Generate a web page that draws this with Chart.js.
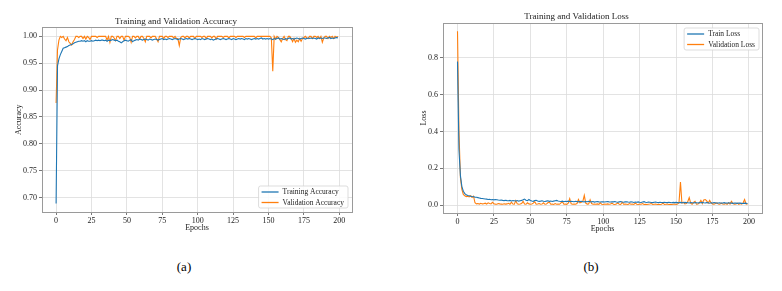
<!DOCTYPE html>
<html>
<head>
<meta charset="utf-8">
<script src="https://cdn.jsdelivr.net/npm/chart.js@4.4.0/dist/chart.umd.min.js"></script>
<style>
  html, body { margin: 0; padding: 0; background: #fff; }
  body { width: 782px; height: 291px; position: relative; overflow: hidden; }
  .box { position: absolute; top: 0; width: 391px; height: 240px; }
  .cap { position: absolute; top: 259px; width: 40px; margin-left: -20px; text-align: center;
         font: normal 13px "Liberation Serif", serif; color: #000; }
</style>
</head>
<body>
<div class="box" style="left:0"><canvas id="acc" width="391" height="240"></canvas></div>
<div class="box" style="left:391px"><canvas id="loss" width="391" height="240"></canvas></div>
<div class="cap" style="left:184px">(a)</div>
<div class="cap" style="left:591px">(b)</div>
<script>
// epochs 0..199
const epochs = [...Array(200).keys()]

const xTicks = [0, 25, 50, 75, 100, 125, 150, 175, 200]
const accTicks = [0.70, 0.75, 0.80, 0.85, 0.90, 0.95, 1.00]
const lossTicks = [0.0, 0.2, 0.4, 0.6, 0.8]

const trainAcc = [
  0.689,0.945,0.958,0.966,0.972,0.978,0.979,0.980,0.981,0.983,
  0.984,0.985,0.986,0.988,0.989,0.990,0.991,0.991,0.992,0.991,
  0.992,0.990,0.992,0.991,0.991,0.992,0.991,0.992,0.993,0.992,
  0.993,0.992,0.993,0.993,0.992,0.993,0.991,0.993,0.992,0.993,
  0.994,0.993,0.992,0.993,0.991,0.990,0.988,0.990,0.992,0.993,
  0.992,0.991,0.993,0.994,0.990,0.992,0.993,0.994,0.993,0.995,
  0.994,0.993,0.994,0.995,0.994,0.993,0.995,0.994,0.993,0.994,
  0.995,0.994,0.993,0.994,0.995,0.996,0.994,0.995,0.994,0.995,
  0.996,0.995,0.994,0.995,0.996,0.995,0.994,0.995,0.996,0.995,
  0.994,0.995,0.996,0.995,0.996,0.995,0.994,0.995,0.996,0.995,
  0.994,0.995,0.994,0.996,0.995,0.994,0.995,0.996,0.995,0.994,
  0.995,0.993,0.994,0.995,0.996,0.995,0.994,0.995,0.996,0.995,
  0.994,0.995,0.996,0.995,0.994,0.996,0.995,0.994,0.995,0.996,
  0.995,0.996,0.995,0.994,0.996,0.995,0.996,0.995,0.994,0.995,
  0.996,0.995,0.996,0.995,0.996,0.997,0.995,0.996,0.995,0.996,
  0.995,0.996,0.995,0.994,0.996,0.995,0.996,0.997,0.995,0.996,
  0.995,0.994,0.996,0.995,0.996,0.997,0.995,0.996,0.995,0.996,
  0.997,0.996,0.995,0.996,0.997,0.996,0.995,0.996,0.997,0.996,
  0.997,0.996,0.997,0.996,0.995,0.997,0.996,0.997,0.996,0.997,
  0.997,0.996,0.997,0.998,0.996,0.997,0.996,0.997,0.998,0.997
]
const valAcc = [
  0.876,0.975,0.993,1.000,0.998,1.000,0.995,0.992,0.998,0.990,
  0.987,0.984,0.990,0.994,1.000,1.000,0.998,1.000,1.000,0.996,
  1.000,0.995,1.000,0.998,0.994,1.000,1.000,1.000,1.000,0.998,
  1.000,1.000,1.000,1.000,1.000,1.000,0.993,1.000,0.989,1.000,
  1.000,0.997,0.992,1.000,1.000,0.996,1.000,1.000,0.993,1.000,
  1.000,1.000,0.998,0.989,1.000,1.000,0.997,1.000,1.000,0.995,
  1.000,1.000,0.996,0.990,1.000,1.000,1.000,0.997,1.000,1.000,
  1.000,0.995,0.990,1.000,1.000,1.000,0.996,1.000,1.000,0.998,
  1.000,1.000,1.000,0.997,1.000,0.996,0.996,0.983,0.998,1.000,
  1.000,0.997,1.000,1.000,0.997,1.000,1.000,1.000,0.996,1.000,
  1.000,1.000,1.000,0.998,1.000,1.000,0.996,1.000,1.000,1.000,
  0.997,1.000,1.000,0.995,1.000,1.000,1.000,1.000,0.998,1.000,
  1.000,1.000,0.997,1.000,1.000,1.000,1.000,0.998,1.000,1.000,
  1.000,1.000,1.000,0.998,1.000,1.000,1.000,1.000,1.000,1.000,
  1.000,0.997,1.000,1.000,1.000,1.000,1.000,1.000,1.000,1.000,
  1.000,1.000,0.997,0.935,1.000,0.995,1.000,0.998,0.994,0.990,
  0.996,1.000,0.994,0.992,1.000,1.000,0.996,0.990,0.996,0.989,
  0.993,0.990,0.996,0.991,0.996,0.998,1.000,0.997,0.996,1.000,
  1.000,0.996,1.000,1.000,0.998,1.000,0.996,1.000,0.989,0.997,
  1.000,1.000,0.996,1.000,0.998,1.000,0.996,1.000,0.998,1.000
]
const trainLoss = [
  0.780,0.300,0.160,0.100,0.075,0.062,0.056,0.052,0.050,0.048,
  0.046,0.045,0.043,0.042,0.040,0.038,0.036,0.035,0.034,0.033,
  0.032,0.030,0.031,0.029,0.030,0.028,0.030,0.029,0.027,0.026,
  0.027,0.025,0.024,0.026,0.024,0.023,0.025,0.022,0.024,0.023,
  0.022,0.024,0.021,0.023,0.025,0.028,0.032,0.026,0.024,0.030,
  0.025,0.022,0.020,0.024,0.026,0.022,0.020,0.021,0.023,0.020,
  0.019,0.021,0.023,0.020,0.022,0.019,0.021,0.023,0.025,0.022,
  0.020,0.019,0.021,0.018,0.020,0.019,0.021,0.018,0.020,0.019,
  0.018,0.020,0.019,0.017,0.019,0.020,0.018,0.017,0.019,0.018,
  0.020,0.018,0.017,0.019,0.016,0.018,0.019,0.017,0.016,0.018,
  0.017,0.016,0.018,0.019,0.017,0.016,0.018,0.017,0.019,0.016,
  0.015,0.017,0.019,0.016,0.015,0.017,0.018,0.016,0.015,0.017,
  0.016,0.014,0.016,0.015,0.017,0.015,0.014,0.016,0.018,0.015,
  0.014,0.016,0.015,0.014,0.013,0.015,0.016,0.014,0.013,0.015,
  0.014,0.013,0.015,0.014,0.013,0.015,0.014,0.012,0.014,0.013,
  0.014,0.013,0.012,0.014,0.013,0.012,0.014,0.013,0.012,0.011,
  0.013,0.012,0.011,0.013,0.012,0.011,0.013,0.012,0.014,0.012,
  0.011,0.013,0.012,0.010,0.012,0.011,0.013,0.012,0.010,0.011,
  0.012,0.010,0.011,0.013,0.011,0.010,0.012,0.011,0.010,0.009,
  0.011,0.010,0.009,0.011,0.010,0.009,0.008,0.010,0.009,0.008
]
const valLoss = [
  0.945,0.400,0.150,0.085,0.058,0.050,0.046,0.048,0.044,0.050,
  0.041,0.048,0.012,0.006,0.008,0.005,0.009,0.006,0.007,0.010,
  0.005,0.012,0.008,0.006,0.015,0.007,0.005,0.004,0.008,0.006,
  0.005,0.004,0.007,0.005,0.006,0.009,0.004,0.015,0.005,0.004,
  0.024,0.006,0.004,0.005,0.008,0.020,0.005,0.004,0.012,0.006,
  0.004,0.005,0.010,0.018,0.004,0.005,0.008,0.004,0.005,0.012,
  0.004,0.005,0.012,0.016,0.004,0.005,0.003,0.008,0.004,0.005,
  0.004,0.012,0.018,0.004,0.005,0.003,0.010,0.035,0.006,0.004,
  0.005,0.004,0.008,0.030,0.012,0.015,0.020,0.052,0.010,0.005,
  0.006,0.028,0.008,0.004,0.005,0.004,0.006,0.003,0.012,0.004,
  0.003,0.005,0.004,0.006,0.004,0.005,0.010,0.004,0.003,0.005,
  0.012,0.004,0.003,0.015,0.004,0.005,0.004,0.003,0.008,0.004,
  0.005,0.003,0.010,0.004,0.003,0.005,0.004,0.008,0.003,0.004,
  0.003,0.004,0.005,0.008,0.003,0.004,0.005,0.003,0.004,0.003,
  0.004,0.010,0.003,0.004,0.005,0.003,0.004,0.003,0.004,0.005,
  0.003,0.005,0.012,0.125,0.010,0.015,0.006,0.008,0.018,0.040,
  0.010,0.004,0.014,0.020,0.004,0.005,0.012,0.025,0.008,0.028,
  0.030,0.022,0.010,0.025,0.012,0.006,0.004,0.008,0.012,0.005,
  0.004,0.010,0.005,0.004,0.008,0.004,0.012,0.005,0.020,0.008,
  0.004,0.005,0.010,0.004,0.008,0.005,0.012,0.030,0.006,0.005
]

const BLUE = '#1f77b4'
const ORANGE = '#ff7f0e'
const FONT = '"Liberation Serif", "Times New Roman", serif'

// frame round the plot + legend box inside the plot area
const framePlugin = {
  id: 'frame',
  afterDatasetsDraw(chart, args, opts) {
    const ctx = chart.ctx
    const a = chart.chartArea
    ctx.save()
    ctx.strokeStyle = '#9a9a9a'
    ctx.lineWidth = 1
    ctx.strokeRect(Math.round(a.left) + 0.5, Math.round(a.top) + 0.5,
                   Math.round(a.right - a.left), Math.round(a.bottom - a.top))

    // legend
    ctx.font = '7.5px ' + FONT
    const sets = chart.data.datasets
    let tw = 0
    sets.forEach(d => { tw = Math.max(tw, ctx.measureText(d.label).width) })
    const w = 3 + 17 + 4 + tw + 4
    const h = 22
    const x = a.right - opts.gapX - w
    const y = opts.corner === 'br' ? a.bottom - opts.gapY - h : a.top + opts.gapY
    ctx.fillStyle = 'rgba(255,255,255,0.85)'
    ctx.strokeStyle = '#d4d4d4'
    ctx.lineWidth = 0.8
    ctx.beginPath()
    ctx.roundRect(x, y, w, h, 2)
    ctx.fill()
    ctx.stroke()
    sets.forEach((d, i) => {
      const cy = y + 6 + i * 10.5
      ctx.strokeStyle = d.borderColor
      ctx.lineWidth = 1.3
      ctx.beginPath()
      ctx.moveTo(x + 3, cy)
      ctx.lineTo(x + 20, cy)
      ctx.stroke()
      ctx.fillStyle = '#222'
      ctx.textBaseline = 'middle'
      ctx.fillText(d.label, x + 24, cy + 0.5)
    })
    ctx.restore()
  }
}

function series(label, values, color) {
  return {
    label: label,
    data: values.map((v, i) => ({ x: epochs[i], y: v })),
    borderColor: color,
    backgroundColor: color,
    borderWidth: 1.1,
    pointRadius: 0,
    tension: 0
  }
}

function makeChart(id, cfg) {
  return new Chart(id, {
    type: 'line',
    data: { datasets: cfg.datasets },
    plugins: [framePlugin],
    options: {
      responsive: false,
      animation: false,
      layout: { padding: { left: 0, right: cfg.padRight, top: 0, bottom: 0 } },
      plugins: {
        legend: { display: false },
        tooltip: { enabled: false },
        title: {
          display: true,
          text: cfg.title,
          color: '#222',
          font: { family: FONT, size: 9, weight: 'normal' },
          padding: { top: cfg.titleTop, bottom: cfg.titleBottom }
        },
        frame: cfg.legend
      },
      scales: {
        x: {
          type: 'linear',
          min: -9.95,
          max: 208.95,
          afterBuildTicks: s => { s.ticks = xTicks.map(v => ({ value: v })) },
          afterFit: s => { s.height = cfg.xHeight },
          grid: { color: '#dcdcdc', lineWidth: 0.8, tickLength: 3, tickColor: '#555' },
          border: { display: false },
          ticks: { color: '#222', padding: 1, maxRotation: 0, font: { family: FONT, size: 8 } },
          title: {
            display: true, text: 'Epochs', color: '#222',
            font: { family: FONT, size: 8 },
            padding: { top: 0, bottom: cfg.xTitleBottom }
          }
        },
        y: {
          min: cfg.yMin,
          max: cfg.yMax,
          afterBuildTicks: s => { s.ticks = cfg.yTicks.map(v => ({ value: v })) },
          afterFit: s => { s.width = cfg.yWidth },
          grid: { color: '#dcdcdc', lineWidth: 0.8, tickLength: 3, tickColor: '#555' },
          border: { display: false },
          ticks: {
            color: '#222', padding: 2,
            font: { family: FONT, size: 8 },
            callback: v => v.toFixed(cfg.decimals)
          },
          title: {
            display: true, text: cfg.yTitle, color: '#222',
            font: { family: FONT, size: 8 },
            padding: { top: cfg.yTitleTop, bottom: 0 }
          }
        }
      }
    }
  })
}

makeChart('acc', {
  title: 'Training and Validation Accuracy',
  datasets: [
    series('Training Accuracy', trainAcc, BLUE),
    series('Validation Accuracy', valAcc, ORANGE)
  ],
  padRight: 39, titleTop: 16.6, titleBottom: 0,
  xHeight: 28, xTitleBottom: 7.5,
  yMin: 0.673, yMax: 1.0167, yTicks: accTicks, yWidth: 42, yTitle: 'Accuracy', yTitleTop: 14,
  decimals: 2,
  legend: { corner: 'br', gapX: 4, gapY: 4 }
})

makeChart('loss', {
  title: 'Training and Validation Loss',
  datasets: [
    series('Train Loss', trainLoss, BLUE),
    series('Validation Loss', valLoss, ORANGE)
  ],
  padRight: 20, titleTop: 11.6, titleBottom: 0.6,
  xHeight: 27, xTitleBottom: 6,
  yMin: -0.0435, yMax: 0.99, yTicks: lossTicks, yWidth: 52, yTitle: 'Loss', yTitleTop: 28,
  decimals: 1,
  legend: { corner: 'tr', gapX: 3, gapY: 5 }
})
</script>
</body>
</html>
